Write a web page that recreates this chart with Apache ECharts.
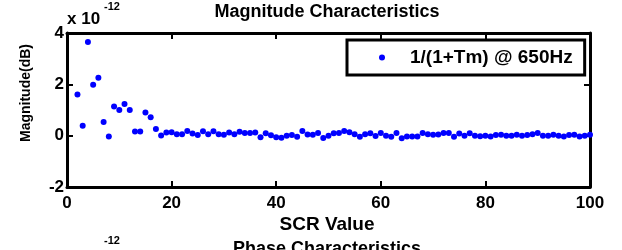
<!DOCTYPE html>
<html>
<head>
<meta charset="utf-8">
<title>Magnitude Characteristics</title>
<script src="https://cdn.jsdelivr.net/npm/echarts@6/dist/echarts.min.js"></script>
<style>
  html, body { margin: 0; padding: 0; background: #fff; }
  #chart { width: 622px; height: 250px; }
</style>
</head>
<body>
<div id="chart"></div>
<script>
// SCR values on the x axis
const scr = [2, 3, 4, 5, 6, 7, 8, 9, 10, 11, 12, 13, 14, 15, 16, 17, 18, 19, 20,
  21, 22, 23, 24, 25, 26, 27, 28, 29, 30, 31, 32, 33, 34, 35, 36, 37, 38, 39, 40,
  41, 42, 43, 44, 45, 46, 47, 48, 49, 50, 51, 52, 53, 54, 55, 56, 57, 58, 59, 60,
  61, 62, 63, 64, 65, 66, 67, 68, 69, 70, 71, 72, 73, 74, 75, 76, 77, 78, 79, 80,
  81, 82, 83, 84, 85, 86, 87, 88, 89, 90, 91, 92, 93, 94, 95, 96, 97, 98, 99, 100];

// magnitude, in units of 1e-12
const magnitude = [1.60, 0.39, 3.65, 1.98, 2.26, 0.53, -0.03, 1.14, 1.00, 1.23, 1.00, 0.16, 0.16, 0.90, 0.72, 0.26, 0.01, 0.12, 0.13,
  0.06, 0.06, 0.18, 0.08, 0.03, 0.17, 0.06, 0.17, 0.06, 0.04, 0.12, 0.06, 0.15, 0.10, 0.10, 0.12, -0.06, 0.09, 0.02, -0.06,
  -0.08, 0.00, 0.03, -0.04, 0.18, 0.05, 0.04, 0.10, -0.09, 0.00, 0.09, 0.10, 0.18, 0.13, 0.06, -0.04, 0.06, 0.09, -0.01, 0.10,
  0.00, -0.04, 0.10, -0.10, -0.03, -0.03, -0.03, 0.10, 0.06, 0.04, 0.05, 0.10, 0.10, -0.04, 0.08, 0.00, 0.09, 0.00, -0.02, 0.00,
  -0.03, 0.03, 0.04, 0.00, 0.00, 0.04, 0.00, 0.03, 0.06, 0.10, 0.00, 0.00, 0.04, 0.00, -0.03, 0.03, 0.04, -0.03, 0.00, 0.04];

const xTicks = [0, 20, 40, 60, 80, 100];
const yTicks = [-2, 0, 2, 4];
const seriesName = '1/(1+Tm) @ 650Hz';

const FONT = '"Liberation Sans", Arial, sans-serif';

const chart = echarts.init(document.getElementById('chart'), null, { renderer: 'canvas' });

const points = scr.map((x, i) => [x, magnitude[i]]);

// thick box made of the four axis lines, ticks pointing inward
const tickStyle = { show: true, inside: true, length: 6, lineStyle: { color: '#000', width: 2 } };
const boxLine = { show: true, onZero: false, lineStyle: { color: '#000', width: 3 } };

const option = {
  animation: false,
  backgroundColor: '#fff',
  grid: { left: 67, right: 32, top: 33, bottom: 63, show: false },
  xAxis: [
    {
      type: 'value', min: xTicks[0], max: xTicks[xTicks.length - 1], interval: 20,
      axisLine: boxLine, splitLine: { show: false },
      axisTick: tickStyle,
      axisLabel: { color: '#000', fontFamily: FONT, fontWeight: 'bold', fontSize: 17, margin: 8 }
    },
    {
      type: 'value', position: 'top', min: 0, max: 100, interval: 20,
      axisLine: boxLine, splitLine: { show: false },
      axisTick: tickStyle, axisLabel: { show: false }
    }
  ],
  yAxis: [
    {
      type: 'value', min: yTicks[0], max: yTicks[yTicks.length - 1], interval: 2,
      axisLine: boxLine, splitLine: { show: false },
      axisTick: tickStyle,
      axisLabel: { color: '#000', fontFamily: FONT, fontWeight: 'bold', fontSize: 17, margin: 3 }
    },
    {
      type: 'value', position: 'right', min: -2, max: 4, interval: 2,
      axisLine: boxLine, splitLine: { show: false },
      axisTick: tickStyle, axisLabel: { show: false }
    }
  ],
  legend: {
    left: 347, top: 40,
    orient: 'horizontal',
    backgroundColor: '#fff',
    borderColor: '#000', borderWidth: 3, borderRadius: 0,
    padding: [8, 12, 8, 32],
    itemWidth: 6, itemHeight: 6,
    textStyle: { color: '#000', fontFamily: FONT, fontWeight: 'bold', fontSize: 19, padding: [0, 0, 0, 20] },
    data: [{ name: seriesName, icon: 'circle' }]
  },
  series: [
    {
      name: seriesName,
      type: 'scatter',
      data: points,
      symbol: 'circle',
      symbolSize: 6,
      itemStyle: { color: '#0000ff', opacity: 1 }
    }
  ],
  graphic: [
    // title
    { type: 'text', x: 327, y: 12, style: { text: 'Magnitude Characteristics', fill: '#000', font: 'bold 18px ' + FONT, align: 'center', verticalAlign: 'middle' } },
    // exponent
    { type: 'text', left: 67, top: 11, style: { text: 'x 10', fill: '#000', font: 'bold 17px ' + FONT } },
    { type: 'text', left: 104, top: 1, style: { text: '-12', fill: '#000', font: 'bold 11px ' + FONT } },
    // y label
    {
      type: 'text', x: 26, y: 93, rotation: Math.PI / 2,
      style: { text: 'Magnitude(dB)', fill: '#000', font: 'bold 14px ' + FONT, align: 'center', verticalAlign: 'middle' }
    },
    // x label
    { type: 'text', x: 327, y: 225, style: { text: 'SCR Value', fill: '#000', font: 'bold 19px ' + FONT, align: 'center', verticalAlign: 'middle' } },
    // next subplot, cut off at the bottom
    { type: 'text', left: 104, top: 235, style: { text: '-12', fill: '#000', font: 'bold 11px ' + FONT } },
    { type: 'text', x: 327, y: 240, style: { text: 'Phase Characteristics', fill: '#000', font: 'bold 18px ' + FONT, align: 'center', verticalAlign: 'top' } }
  ]
};

chart.setOption(option);
</script>
</body>
</html>
